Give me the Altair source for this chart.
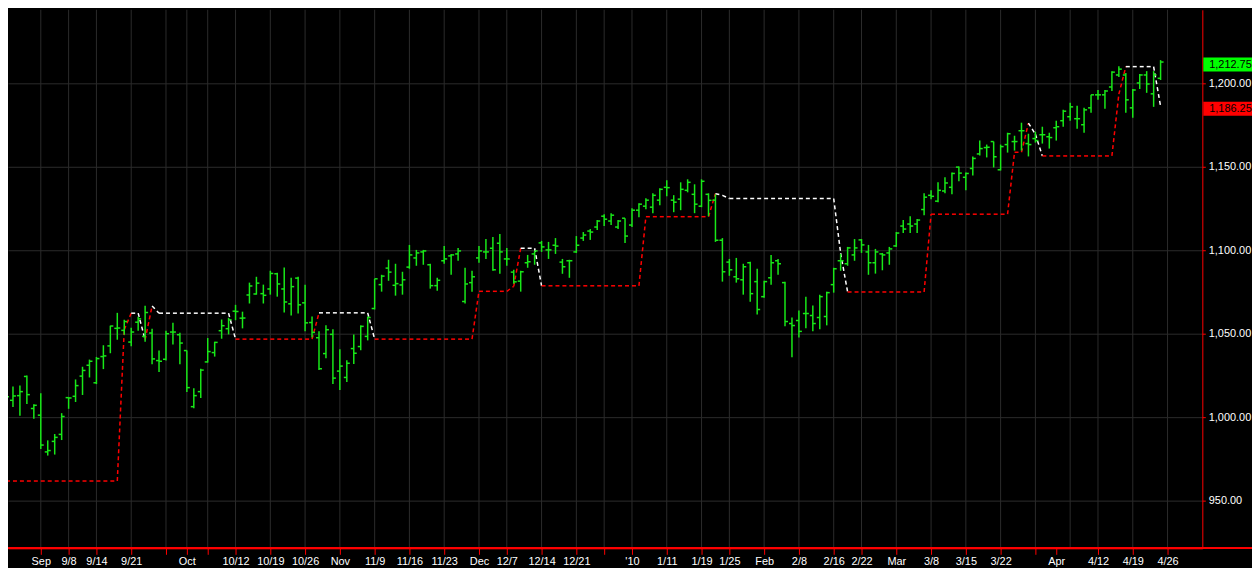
import json
import altair as alt
import pandas as pd

# ---------------- data ----------------
OPEN = [
    1015.3, 1010.1, 1012.9, 1024.4, 1005.2, 1001.2, 979.2, 985.5, 989.7, 1011.7,
    1012.5, 1024.6, 1031.1, 1020.6, 1036.3, 1042.7, 1053.2, 1052.0, 1045.0, 1056.9,
    1048.4, 1050.4, 1033.9, 1034.7, 1051.0, 1049.4, 1039.9, 1006.3, 1015.3, 1033.1,
    1038.7, 1051.8, 1053.0, 1063.5, 1059.3, 1073.2, 1073.8, 1074.0, 1076.8, 1085.9,
    1076.8, 1067.9, 1083.3, 1068.5, 1056.7, 1047.6, 1038.1, 1049.6, 1027.6, 1023.8,
    1041.1, 1042.3, 1048.4, 1065.1, 1079.4, 1089.3, 1079.0, 1079.2, 1089.9, 1095.4,
    1099.0, 1091.3, 1078.8, 1093.7, 1096.6, 1097.8, 1069.3, 1080.6, 1095.4, 1099.0,
    1101.2, 1104.2, 1094.8, 1086.9, 1081.5, 1092.5, 1097.8, 1104.4, 1100.2, 1103.0,
    1092.9, 1093.7, 1099.0, 1107.3, 1111.5, 1113.9, 1120.4, 1117.5, 1113.9, 1119.2,
    1115.1, 1124.0, 1126.4, 1125.8, 1130.0, 1137.7, 1130.0, 1130.6, 1135.9, 1133.5,
    1126.4, 1133.5, 1130.0, 1106.0, 1092.9, 1084.1, 1082.3, 1092.5, 1081.2, 1072.2,
    1083.5, 1093.7, 1080.6, 1056.1, 1057.9, 1062.1, 1060.9, 1059.7, 1060.3, 1079.4,
    1093.7, 1091.9, 1097.2, 1106.2, 1099.0, 1092.5, 1097.8, 1098.4, 1102.6, 1114.5,
    1115.7, 1115.7, 1124.4, 1132.9, 1129.4, 1135.5, 1137.7, 1149.8, 1143.7, 1149.0,
    1157.7, 1161.5, 1165.1, 1148.2, 1163.3, 1165.1, 1171.6, 1163.9, 1166.9, 1169.2,
    1168.0, 1173.4, 1177.6, 1180.0, 1178.8, 1175.2, 1185.3, 1193.1, 1193.1, 1197.8,
    1205.0, 1205.0, 1185.3, 1200.2, 1205.0, 1193.7, 1203.0,
]
HIGH = [
    1024.4, 1018.4, 1019.0, 1025.0, 1007.7, 1014.3, 986.1, 989.9, 1002.4, 1011.9,
    1022.6, 1030.2, 1034.5, 1036.1, 1043.1, 1054.8, 1062.5, 1058.3, 1053.6, 1060.1,
    1066.7, 1053.0, 1039.9, 1051.8, 1056.5, 1050.6, 1039.9, 1017.3, 1029.0, 1047.4,
    1045.2, 1058.5, 1059.5, 1067.3, 1063.2, 1080.6, 1084.1, 1079.4, 1087.7, 1086.5,
    1089.7, 1083.5, 1084.1, 1079.4, 1060.3, 1051.4, 1055.0, 1052.6, 1040.7, 1034.1,
    1049.6, 1055.0, 1060.3, 1082.9, 1085.3, 1094.3, 1091.9, 1087.1, 1103.2, 1100.2,
    1100.2, 1091.9, 1083.5, 1102.6, 1097.8, 1101.4, 1089.5, 1087.7, 1102.6, 1106.7,
    1107.9, 1109.7, 1101.4, 1088.3, 1087.7, 1097.2, 1099.6, 1105.6, 1105.0, 1107.3,
    1094.8, 1094.3, 1108.5, 1110.9, 1112.7, 1118.1, 1121.6, 1122.2, 1118.1, 1119.2,
    1125.2, 1128.2, 1131.2, 1134.1, 1137.1, 1141.9, 1133.0, 1140.7, 1142.5, 1139.5,
    1142.5, 1134.1, 1133.5, 1107.3, 1094.8, 1095.4, 1091.9, 1093.1, 1088.9, 1081.7,
    1097.2, 1094.8, 1081.2, 1059.7, 1063.9, 1072.2, 1066.9, 1073.4, 1075.2, 1089.5,
    1097.8, 1102.0, 1106.7, 1106.7, 1103.2, 1100.8, 1098.4, 1102.0, 1110.9, 1118.1,
    1120.4, 1118.7, 1134.1, 1135.9, 1140.7, 1143.7, 1146.6, 1150.2, 1146.6, 1156.2,
    1165.7, 1163.3, 1165.1, 1163.3, 1170.4, 1168.6, 1176.4, 1169.8, 1171.0, 1174.0,
    1170.4, 1177.6, 1184.1, 1188.3, 1186.5, 1185.3, 1193.1, 1196.0, 1196.0, 1207.3,
    1210.3, 1206.2, 1196.6, 1205.6, 1207.3, 1207.3, 1213.9,
]
LOW = [
    1011.1, 1006.1, 1000.8, 1007.9, 999.0, 980.9, 977.0, 977.6, 986.3, 1005.0,
    1009.1, 1013.3, 1023.8, 1019.8, 1028.8, 1038.3, 1046.4, 1049.4, 1042.5, 1051.8,
    1045.2, 1031.7, 1027.0, 1033.9, 1043.6, 1031.7, 1015.1, 1005.4, 1011.5, 1032.7,
    1036.3, 1047.0, 1049.6, 1058.1, 1053.2, 1068.1, 1073.4, 1068.1, 1073.4, 1072.2,
    1062.7, 1060.9, 1062.1, 1051.4, 1047.8, 1028.2, 1035.3, 1019.8, 1016.3, 1021.0,
    1031.8, 1040.1, 1046.0, 1064.5, 1075.2, 1081.7, 1072.8, 1073.4, 1088.9, 1090.7,
    1091.3, 1077.0, 1075.8, 1091.9, 1085.3, 1093.7, 1068.1, 1075.2, 1092.5, 1094.8,
    1087.7, 1085.9, 1090.7, 1080.0, 1075.2, 1089.5, 1091.3, 1099.0, 1094.8, 1097.8,
    1085.9, 1083.5, 1098.4, 1105.6, 1106.2, 1112.1, 1114.5, 1115.1, 1112.7, 1104.4,
    1113.9, 1119.8, 1124.6, 1122.2, 1127.0, 1132.3, 1122.8, 1124.0, 1134.7, 1122.2,
    1125.8, 1120.4, 1105.0, 1081.2, 1084.7, 1080.6, 1073.4, 1069.2, 1061.5, 1071.6,
    1079.4, 1085.3, 1054.4, 1035.9, 1047.8, 1053.2, 1051.4, 1052.6, 1055.0, 1074.6,
    1087.7, 1090.7, 1093.7, 1098.4, 1085.3, 1086.0, 1088.0, 1091.3, 1102.0, 1110.3,
    1110.3, 1110.3, 1121.0, 1130.6, 1128.8, 1134.1, 1133.5, 1141.3, 1135.9, 1144.8,
    1156.8, 1155.6, 1149.6, 1147.8, 1158.5, 1159.7, 1159.7, 1156.2, 1164.5, 1163.9,
    1160.9, 1165.7, 1174.0, 1177.6, 1172.8, 1170.4, 1182.3, 1190.1, 1184.7, 1195.4,
    1203.8, 1182.3, 1179.4, 1196.6, 1194.3, 1185.9, 1202.0,
]
CLOSE = [
    1012.3, 1012.7, 1015.3, 1013.5, 1007.1, 983.3, 980.0, 987.9, 1000.4, 1011.5,
    1018.9, 1028.0, 1033.5, 1035.1, 1036.7, 1054.6, 1053.4, 1057.3, 1051.0, 1058.9,
    1062.7, 1034.9, 1033.5, 1050.0, 1051.0, 1044.4, 1017.7, 1012.9, 1028.2, 1039.3,
    1044.8, 1054.8, 1058.3, 1063.3, 1059.4, 1078.6, 1080.3, 1073.0, 1086.1, 1079.8,
    1069.0, 1078.2, 1067.3, 1056.5, 1050.8, 1029.0, 1052.4, 1023.4, 1030.6, 1032.3,
    1038.3, 1054.4, 1059.7, 1082.9, 1084.5, 1086.9, 1080.0, 1082.3, 1097.2, 1098.4,
    1099.6, 1078.8, 1082.0, 1094.8, 1097.2, 1099.6, 1079.8, 1084.1, 1099.6, 1099.0,
    1088.3, 1099.0, 1094.8, 1081.1, 1087.1, 1093.1, 1099.6, 1102.0, 1100.2, 1102.5,
    1090.1, 1093.7, 1103.0, 1109.1, 1110.9, 1117.5, 1118.6, 1121.0, 1117.5, 1108.5,
    1124.0, 1127.6, 1130.0, 1132.9, 1136.5, 1137.5, 1128.8, 1136.5, 1140.7, 1127.6,
    1141.3, 1129.9, 1106.0, 1087.1, 1088.3, 1082.9, 1090.1, 1074.0, 1064.5, 1081.2,
    1092.5, 1091.9, 1057.3, 1054.9, 1051.4, 1062.1, 1056.1, 1072.2, 1074.6, 1088.9,
    1093.7, 1101.4, 1101.4, 1103.2, 1092.5, 1099.0, 1097.2, 1100.8, 1110.3, 1112.7,
    1114.5, 1118.1, 1131.8, 1132.3, 1135.9, 1140.3, 1146.0, 1146.2, 1146.0, 1155.0,
    1160.9, 1161.7, 1156.0, 1162.1, 1169.8, 1165.1, 1171.6, 1163.3, 1165.7, 1169.2,
    1167.5, 1174.0, 1183.3, 1185.9, 1178.8, 1184.1, 1193.1, 1193.1, 1195.4, 1206.7,
    1208.5, 1190.1, 1196.0, 1205.0, 1199.6, 1205.0, 1212.75,
]
# trailing stop level per bar and its state (R = support / red, W = resistance / white)
STOP = [
    961.75, 961.75, 961.75, 961.75, 961.75, 961.75, 961.75, 961.75, 961.75, 961.75,
    961.75, 961.75, 961.75, 961.75, 961.75, 961.75, 961.75, 1052.4, 1062.3, 1062.3,
    1046.4, 1066.6, 1062.3, 1062.3, 1062.3, 1062.3, 1062.3, 1062.3, 1062.3, 1062.3,
    1062.3, 1062.3, 1062.3, 1046.75, 1046.75, 1046.75, 1046.75, 1046.75, 1046.75, 1046.75,
    1046.75, 1046.75, 1046.75, 1046.75, 1046.75, 1062.5, 1062.5, 1062.5, 1062.5, 1062.5,
    1062.5, 1062.5, 1062.5, 1046.75, 1046.75, 1046.75, 1046.75, 1046.75, 1046.75, 1046.75,
    1046.75, 1046.75, 1046.75, 1046.75, 1046.75, 1046.75, 1046.75, 1046.75, 1075.4, 1075.4,
    1075.4, 1075.4, 1075.4, 1078.4, 1101.2, 1101.2, 1101.2, 1078.7, 1078.7, 1078.7,
    1078.7, 1078.7, 1078.7, 1078.7, 1078.7, 1078.7, 1078.7, 1078.7, 1078.7, 1078.7,
    1078.7, 1078.7, 1120.1, 1120.1, 1120.1, 1120.1, 1120.1, 1120.1, 1120.1, 1120.1,
    1120.1, 1120.1, 1133.9, 1132.9, 1131.0, 1131.0, 1131.0, 1131.0, 1131.0, 1131.0,
    1131.0, 1131.0, 1131.0, 1131.0, 1131.0, 1131.0, 1131.0, 1131.0, 1131.0, 1131.0,
    1098.2, 1075.0, 1075.0, 1075.0, 1075.0, 1075.0, 1075.0, 1075.0, 1075.0, 1075.0,
    1075.0, 1075.0, 1075.0, 1121.6, 1121.6, 1121.6, 1121.6, 1121.6, 1121.6, 1121.6,
    1121.6, 1121.6, 1121.6, 1121.6, 1121.6, 1158.7, 1158.7, 1176.2, 1169.5, 1156.5,
    1156.5, 1156.5, 1156.5, 1156.5, 1156.5, 1156.5, 1156.5, 1156.5, 1156.5, 1156.5,
    1193.5, 1210.0, 1210.0, 1210.0, 1210.0, 1210.0, 1186.25,
]
STATE = (
    "RRRRRRRRRR" "RRRRRRRRWW" "RWWWWWWWWW" "WWWRRRRRRR" "RRRRRWWWWW"
    "WWWRRRRRRR" "RRRRRRRRRR" "RRRRWWWRRR" "RRRRRRRRRR" "RRRRRRRRRR"
    "RRWWWWWWWW" "WWWWWWWWWW" "WRRRRRRRRR" "RRRRRRRRRR" "RRRRRRRWWR"
    "RRRRRRRRRR" "RWWWWWW"
)
TICK_POS = [5, 9, 13, 18, 23, 26, 29, 33, 38, 43, 48, 53, 58, 63, 68, 72, 77, 82,
            86, 90, 95, 100, 104, 109, 114, 119, 123, 128, 133, 138, 143, 148, 151,
            157, 162, 167]
TICK_LBL = ["Sep", "9/8", "9/14", "9/21", "", "Oct", "", "10/12", "10/19", "10/26",
            "Nov", "11/9", "11/16", "11/23", "Dec", "12/7", "12/14", "12/21", "",
            "'10", "1/11", "1/19", "1/25", "Feb", "2/8", "2/16", "2/22", "Mar", "3/8",
            "3/15", "3/22", "", "Apr", "4/12", "4/19", "4/26"]
GRID_POS = [5, 9, 13, 18, 23, 26, 29, 33, 38, 43, 48, 53, 58, 63, 68, 72, 77, 82,
            86, 90, 95, 100, 104, 109, 114, 119, 123, 128, 133, 138, 143, 148, 153,
            157, 162, 167]
PRICE_TICKS = [950, 1000, 1050, 1100, 1150, 1200]
LAST_CLOSE = 1212.75
LAST_STOP = 1186.25

# ---------------- layout / style ----------------
W, H = 1202, 542
XDOM = [0.2857, 172.0]
YDOM = [921.43, 1244.05]
GREEN = "#18e818"
RED = "#ff0000"
GRID = "#2b2b2b"
FONT = "Liberation Sans"

n = len(CLOSE)
bars = pd.DataFrame({"i": list(range(n)), "o": OPEN, "h": HIGH, "l": LOW, "c": CLOSE})
segs = pd.DataFrame({
    "i": list(range(n - 1)), "i2": list(range(1, n)),
    "v": STOP[:-1], "v2": STOP[1:], "s": list(STATE[: n - 1]),
})
grid = pd.DataFrame({"g": GRID_POS})
close_box = pd.DataFrame({"p": [LAST_CLOSE], "t": [f"{LAST_CLOSE:,.2f}"]})
stop_box = pd.DataFrame({"p": [LAST_STOP], "t": [f"{LAST_STOP:,.2f}"]})

label_expr = "{}[indexof({}, datum.value)]".format(json.dumps(TICK_LBL), json.dumps(TICK_POS))

XS = alt.Scale(domain=XDOM, nice=False, zero=False)
YS = alt.Scale(domain=YDOM, nice=False, zero=False)
XAX = alt.Axis(values=TICK_POS, labelExpr=label_expr, orient="bottom", grid=False,
               domainColor=RED, domainWidth=1, tickColor=RED, tickSize=6, tickWidth=1,
               labelColor="white", labelFont=FONT, labelFontSize=11, labelPadding=1,
               labelOverlap=False, labelFlush=False, labelBound=False, title=None)
YAX = alt.Axis(values=PRICE_TICKS, format=",.2f", orient="right", grid=True,
               gridColor=GRID, gridWidth=1, domainColor=RED, domainWidth=1,
               tickColor=RED, tickSize=3, labelColor="white", labelFont=FONT,
               labelFontSize=11, labelPadding=3, labelOverlap=False,
               labelBound=False, labelFlush=False, title=None)


def X(f):
    return alt.X(f"{f}:Q", scale=XS, axis=XAX)


def Y(f):
    return alt.Y(f"{f}:Q", scale=YS, axis=YAX)


vgrid = alt.Chart(grid).mark_rule(color=GRID, strokeWidth=1).encode(
    x=X("g"), y=alt.value(0), y2=alt.value(H))

stop = alt.Chart(segs).mark_rule(strokeWidth=1.5, strokeDash=[4, 3]).encode(
    x=X("i"), x2="i2:Q", y=Y("v"), y2="v2:Q",
    color=alt.Color("s:N", scale=alt.Scale(domain=["R", "W"], range=[RED, "#ffffff"]),
                    legend=None))

hl = alt.Chart(bars).mark_rule(color=GREEN, strokeWidth=1.5).encode(
    x=X("i"), y=Y("l"), y2="h:Q")
op = alt.Chart(bars).mark_rule(color=GREEN, strokeWidth=1.5, xOffset=-3, x2Offset=0).encode(
    x=X("i"), x2="i:Q", y=Y("o"))
cl = alt.Chart(bars).mark_rule(color=GREEN, strokeWidth=1.5, xOffset=0, x2Offset=3).encode(
    x=X("i"), x2="i:Q", y=Y("c"))


def price_box(df, fill):
    rect = alt.Chart(df).mark_rect(color=fill, yOffset=-4.5, y2Offset=9.5).encode(
        x=alt.value(W + 1), x2=alt.value(W + 50), y=Y("p"), y2="p:Q")
    txt = alt.Chart(df).mark_text(align="left", baseline="middle", dy=2.5, font=FONT,
                                  fontSize=11, color="#000000").encode(
        x=alt.value(W + 7), y=Y("p"), text="t:N")
    return [rect, txt]


baseline = alt.Chart(grid).mark_rule(color=RED, strokeWidth=1).encode(
    x=alt.value(0), x2=alt.value(W + 50), y=alt.value(H))

chart = alt.layer(vgrid, stop, hl, op, cl, *price_box(close_box, "#00ff00"),
                  *price_box(stop_box, RED), baseline).properties(
    width=W, height=H,
    background="#000000",
    padding={"left": 0, "top": 0, "right": 50, "bottom": 18},
    autosize=alt.AutoSizeParams(type="none"),
).configure_view(stroke=None)

chart.save("out.html", embed_options={"renderer": "svg", "actions": False})
